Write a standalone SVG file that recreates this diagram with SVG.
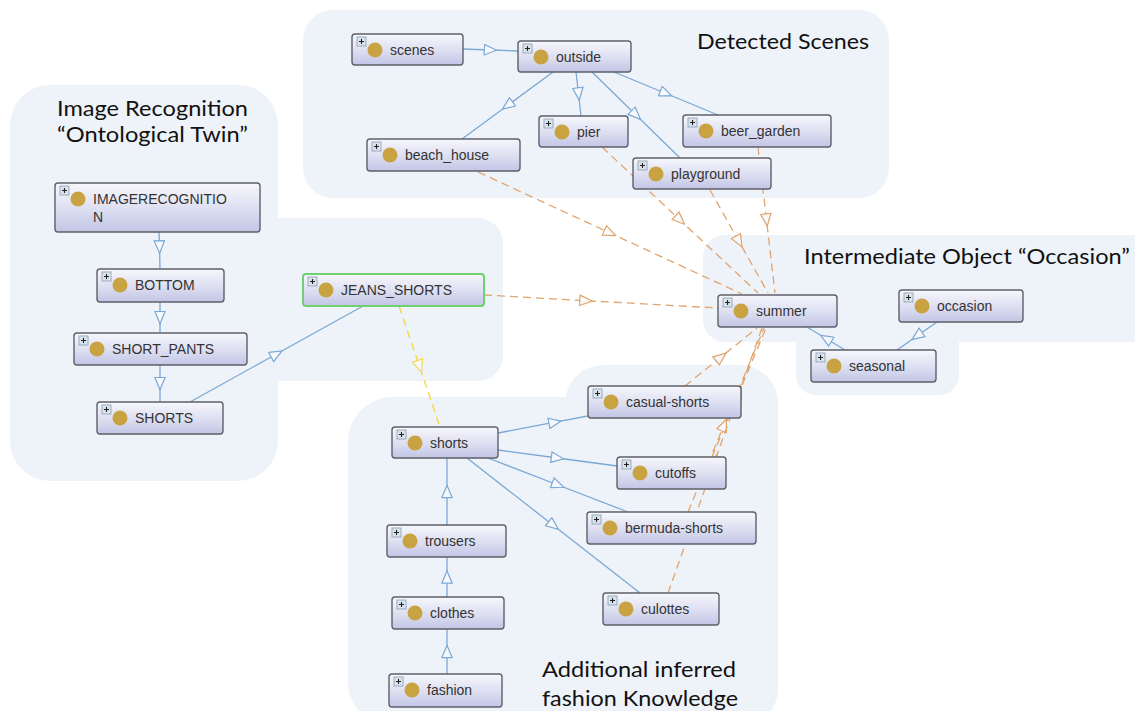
<svg xmlns="http://www.w3.org/2000/svg" width="1135" height="711" viewBox="0 0 1135 711">
<style>
.region{fill:#eef3fa}
.title{font-family:Lato,"Open Sans",sans-serif;font-size:22px;fill:#111}
.box{fill:url(#ng);stroke:#5f6068;stroke-width:1.4}
.sel{stroke:#6fd06f;stroke-width:2}
.lbl{font-family:"Liberation Sans",Arial,sans-serif;font-size:14px;fill:#333}
.eb{fill:none;stroke:#7ba8d4;stroke-width:1.3;marker-mid:url(#ab)}
.eo{fill:none;stroke:#e2a46c;stroke-width:1.3;stroke-dasharray:8 5;marker-mid:url(#ao)}
.ey{fill:none;stroke:#f2d84a;stroke-width:1.4;stroke-dasharray:8 5;marker-mid:url(#ay)}
</style>
<defs>
<linearGradient id="ng" x1="0" y1="0" x2="0" y2="1">
<stop offset="0" stop-color="#f7f7fc"/>
<stop offset="0.55" stop-color="#dcdef1"/>
<stop offset="1" stop-color="#c2c5e5"/>
</linearGradient>
<marker id="ab" viewBox="0 0 14 12" refX="7" refY="6" markerWidth="14" markerHeight="12" markerUnits="userSpaceOnUse" orient="auto">
<path d="M0.8,0.8 L13.2,6 L0.8,11.2 Z" fill="#f6f8fc" stroke="#7ba8d4" stroke-width="1.2" stroke-dasharray="none"/>
</marker>
<marker id="ao" viewBox="0 0 14 12" refX="7" refY="6" markerWidth="14" markerHeight="12" markerUnits="userSpaceOnUse" orient="auto">
<path d="M0.8,0.8 L13.2,6 L0.8,11.2 Z" fill="#f8f9fc" stroke="#e2a46c" stroke-width="1.2" stroke-dasharray="none"/>
</marker>
<marker id="ay" viewBox="0 0 14 12" refX="7" refY="6" markerWidth="14" markerHeight="12" markerUnits="userSpaceOnUse" orient="auto">
<path d="M0.8,0.8 L13.2,6 L0.8,11.2 Z" fill="#f8f9fc" stroke="#f2d84a" stroke-width="1.2" stroke-dasharray="none"/>
</marker>
<g id="icon">
<rect x="5" y="3" width="9" height="9" fill="#d9e3ed" stroke="#8a9bb0" stroke-width="0.8"/>
<path d="M7,7.5 H12 M9.5,5 V10" stroke="#222" stroke-width="1.1"/>
<circle cx="23" cy="16" r="7.5" fill="#c9a342"/>
</g>
</defs>

<rect width="1135" height="711" fill="#ffffff"/>

<g id="regions">
<rect class="region" x="303" y="10" width="586" height="188" rx="30"/>
<rect class="region" x="10" y="85" width="268" height="396" rx="40"/>
<rect class="region" x="240" y="218" width="263" height="163" rx="25"/>
<rect class="region" x="703" y="235" width="460" height="107" rx="22"/>
<rect class="region" x="796" y="300" width="163" height="95" rx="20"/>
<rect class="region" x="348" y="397" width="430" height="330" rx="45"/>
<rect class="region" x="565" y="365" width="213" height="362" rx="38"/>
</g>

<g id="titles">
<text class="title" x="697" y="49" textLength="172" lengthAdjust="spacingAndGlyphs">Detected Scenes</text>
<text class="title" x="57" y="116" textLength="191" lengthAdjust="spacingAndGlyphs">Image Recognition</text>
<text class="title" x="57" y="142" textLength="191" lengthAdjust="spacingAndGlyphs">“Ontological Twin”</text>
<text class="title" x="804" y="264" textLength="326" lengthAdjust="spacingAndGlyphs">Intermediate Object “Occasion”</text>
<text class="title" x="542" y="677" textLength="194" lengthAdjust="spacingAndGlyphs">Additional inferred</text>
<text class="title" x="542" y="706" textLength="196" lengthAdjust="spacingAndGlyphs">fashion Knowledge</text>
</g>

<g id="connectors">
<path class="eb" d="M463,49 L490.5,50 L518,51"/>
<path class="eb" d="M553,72 L507.5,105.5 L462,139"/>
<path class="eb" d="M576,72 L578.5,94 L581,116"/>
<path class="eb" d="M592,72 L636,115 L680,158"/>
<path class="eb" d="M614,72 L666,93.5 L718,115"/>
<path class="eb" d="M159,232 L159.5,247 L160,269"/>
<path class="eb" d="M160,302 L160,317.5 L160,333"/>
<path class="eb" d="M160,365 L160,383.5 L160,402"/>
<path class="eb" d="M190,402 L276.5,354 L363,306"/>
<path class="eb" d="M447,674 L447,651.5 L447,629"/>
<path class="eb" d="M447,597 L447,577 L447,557"/>
<path class="eb" d="M447,525 L447,491.5 L447,458"/>
<path class="eb" d="M498,433 L555,422.2 L588,416"/>
<path class="eb" d="M498,450 L557.5,458 L617,466"/>
<path class="eb" d="M488,458 L558,485 L628,512"/>
<path class="eb" d="M467,458 L553.5,525.5 L640,593"/>
<path class="eb" d="M937,322 L917,336 L897,350"/>
<path class="eb" d="M845,350 L826,338.5 L807,327"/>
<path class="eo" d="M484,295 L586,300.7 L718,308"/>
<path class="eo" d="M478,172 L610,233 L742,294"/>
<path class="eo" d="M602,147 L680,220 L758,293"/>
<path class="eo" d="M710,190 L739,241.5 L768,293"/>
<path class="eo" d="M758,147 L766.5,220 L775,293"/>
<path class="eo" d="M685,386 L721,357 L757,328"/>
<path class="eo" d="M712,457 L739,392.5 L766,328"/>
<path class="eo" d="M688,512 L724,425 L764,328"/>
<path class="eo" d="M668,593 L715,460.5 L762,328"/>
<path class="ey" d="M399,306 L419.5,366.5 L440,427"/>
</g>

<g id="n-scenes" transform="translate(352,34)"><rect class="box" width="111" height="31" rx="3"/><use href="#icon"/><text class="lbl" x="38" y="21">scenes</text></g>
<g id="n-outside" transform="translate(518,41)"><rect class="box" width="113" height="31" rx="3"/><use href="#icon"/><text class="lbl" x="38" y="21">outside</text></g>
<g id="n-pier" transform="translate(539,116)"><rect class="box" width="89" height="31" rx="3"/><use href="#icon"/><text class="lbl" x="38" y="21">pier</text></g>
<g id="n-beach_house" transform="translate(367,139)"><rect class="box" width="153" height="32" rx="3"/><use href="#icon"/><text class="lbl" x="38" y="21">beach_house</text></g>
<g id="n-beer_garden" transform="translate(683,115)"><rect class="box" width="148" height="32" rx="3"/><use href="#icon"/><text class="lbl" x="38" y="21">beer_garden</text></g>
<g id="n-playground" transform="translate(633,158)"><rect class="box" width="138" height="31" rx="3"/><use href="#icon"/><text class="lbl" x="38" y="21">playground</text></g>
<g id="n-IMAGERECOGNITION" transform="translate(55,183)"><rect class="box" width="205" height="49" rx="3"/><use href="#icon"/><text class="lbl" x="38" y="21">IMAGERECOGNITIO</text><text class="lbl" x="38" y="39">N</text></g>
<g id="n-BOTTOM" transform="translate(97,269)"><rect class="box" width="127" height="33" rx="3"/><use href="#icon"/><text class="lbl" x="38" y="21">BOTTOM</text></g>
<g id="n-SHORT_PANTS" transform="translate(74,333)"><rect class="box" width="173" height="32" rx="3"/><use href="#icon"/><text class="lbl" x="38" y="21">SHORT_PANTS</text></g>
<g id="n-SHORTS" transform="translate(97,402)"><rect class="box" width="126" height="32" rx="3"/><use href="#icon"/><text class="lbl" x="38" y="21">SHORTS</text></g>
<g id="n-JEANS_SHORTS" transform="translate(303,274)"><rect class="box sel" width="181" height="32" rx="3"/><use href="#icon"/><text class="lbl" x="38" y="21">JEANS_SHORTS</text></g>
<g id="n-shorts" transform="translate(392,427)"><rect class="box" width="106" height="31" rx="3"/><use href="#icon"/><text class="lbl" x="38" y="21">shorts</text></g>
<g id="n-summer" transform="translate(718,295)"><rect class="box" width="119" height="32" rx="3"/><use href="#icon"/><text class="lbl" x="38" y="21">summer</text></g>
<g id="n-occasion" transform="translate(899,290)"><rect class="box" width="124" height="32" rx="3"/><use href="#icon"/><text class="lbl" x="38" y="21">occasion</text></g>
<g id="n-seasonal" transform="translate(811,350)"><rect class="box" width="125" height="32" rx="3"/><use href="#icon"/><text class="lbl" x="38" y="21">seasonal</text></g>
<g id="n-casual-shorts" transform="translate(588,386)"><rect class="box" width="153" height="32" rx="3"/><use href="#icon"/><text class="lbl" x="38" y="21">casual-shorts</text></g>
<g id="n-cutoffs" transform="translate(617,457)"><rect class="box" width="109" height="32" rx="3"/><use href="#icon"/><text class="lbl" x="38" y="21">cutoffs</text></g>
<g id="n-bermuda-shorts" transform="translate(587,512)"><rect class="box" width="169" height="32" rx="3"/><use href="#icon"/><text class="lbl" x="38" y="21">bermuda-shorts</text></g>
<g id="n-trousers" transform="translate(387,525)"><rect class="box" width="119" height="32" rx="3"/><use href="#icon"/><text class="lbl" x="38" y="21">trousers</text></g>
<g id="n-clothes" transform="translate(392,597)"><rect class="box" width="112" height="32" rx="3"/><use href="#icon"/><text class="lbl" x="38" y="21">clothes</text></g>
<g id="n-fashion" transform="translate(389,674)"><rect class="box" width="113" height="33" rx="3"/><use href="#icon"/><text class="lbl" x="38" y="21">fashion</text></g>
<g id="n-culottes" transform="translate(603,593)"><rect class="box" width="116" height="32" rx="3"/><use href="#icon"/><text class="lbl" x="38" y="21">culottes</text></g>
</svg>
